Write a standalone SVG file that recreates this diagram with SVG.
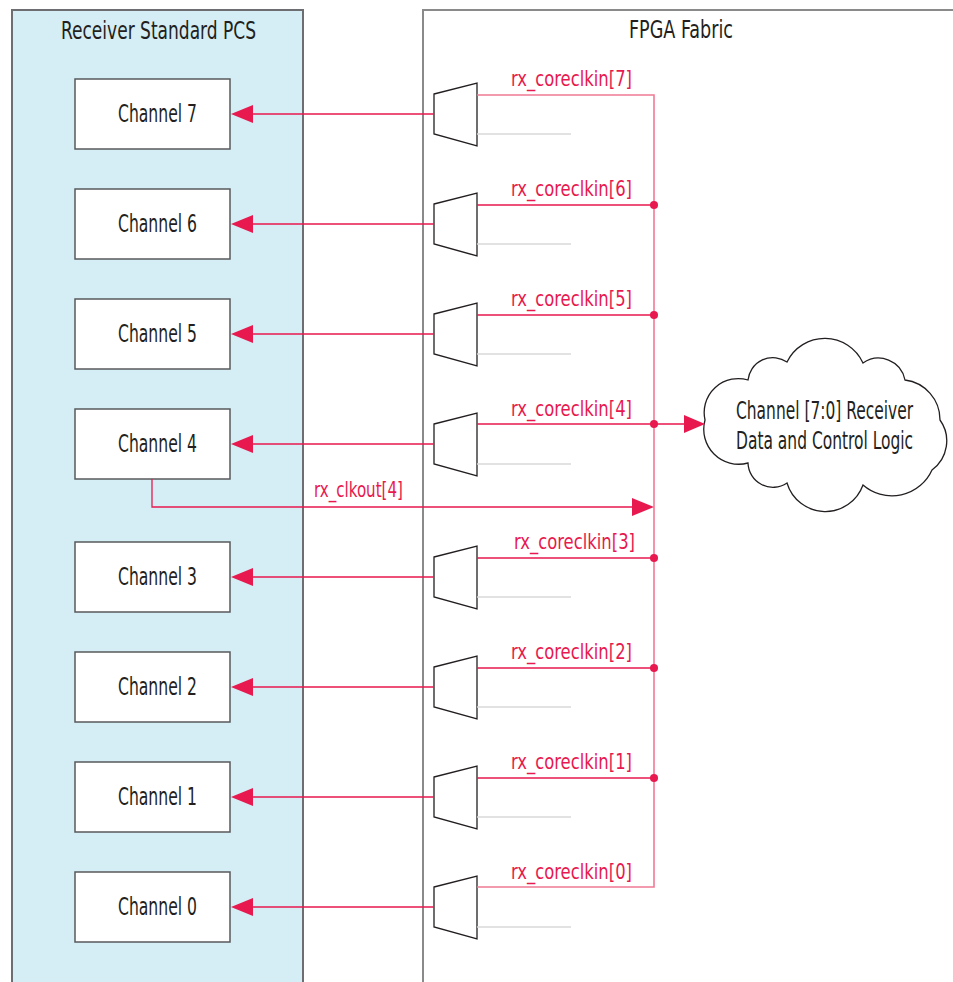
<svg xmlns="http://www.w3.org/2000/svg" width="953" height="982" viewBox="0 0 953 982">
<defs>
<style>
.panel{fill:#d5edf4;stroke:#6d6e71;stroke-width:2}
.fpga{fill:none;stroke:#8a8a8a;stroke-width:2}
.box{fill:#fff;stroke:#58595b;stroke-width:1.5}
.mux{fill:#fff;stroke:#231f20;stroke-width:1.3}
.t{font-family:"Liberation Sans Narrow","DejaVu Sans Condensed","Liberation Sans",sans-serif;fill:#231f20;font-size:25px}
.title{font-size:25px}
.lbl{font-family:"Liberation Sans Narrow","DejaVu Sans Condensed","Liberation Sans",sans-serif;fill:#e8194f;font-size:22px}
.w{fill:none;stroke:#e8194f;stroke-width:1.3}
.bus{fill:none;stroke:#f07a95;stroke-width:1.6}
.g{fill:none;stroke:#d9d9d9;stroke-width:1.3}
.ah{fill:#e8194f}
.cloud{fill:#fff;stroke:#231f20;stroke-width:1.3}
</style>
</defs>
<g id="receiver-pcs">
<path class="panel" d="M12 982 V10 H303 V982"/>
<text class="t title" x="61" y="39" textLength="195" lengthAdjust="spacingAndGlyphs">Receiver Standard PCS</text>
</g>
<g id="fpga-fabric">
<path class="fpga" d="M953 10 H423 V982"/>
<text class="t title" x="629" y="38" textLength="104" lengthAdjust="spacingAndGlyphs">FPGA Fabric</text>
</g>
<g id="ch7"><rect class="box" x="75" y="79" width="155" height="70"/><text class="t" x="118" y="122" textLength="79" lengthAdjust="spacingAndGlyphs">Channel 7</text></g>
<g id="ch6"><rect class="box" x="75" y="189" width="155" height="70"/><text class="t" x="118" y="232" textLength="79" lengthAdjust="spacingAndGlyphs">Channel 6</text></g>
<g id="ch5"><rect class="box" x="75" y="299" width="155" height="70"/><text class="t" x="118" y="342" textLength="79" lengthAdjust="spacingAndGlyphs">Channel 5</text></g>
<g id="ch4"><rect class="box" x="75" y="409" width="155" height="70"/><text class="t" x="118" y="452" textLength="79" lengthAdjust="spacingAndGlyphs">Channel 4</text></g>
<g id="ch3"><rect class="box" x="75" y="542" width="155" height="70"/><text class="t" x="118" y="585" textLength="79" lengthAdjust="spacingAndGlyphs">Channel 3</text></g>
<g id="ch2"><rect class="box" x="75" y="652" width="155" height="70"/><text class="t" x="118" y="695" textLength="79" lengthAdjust="spacingAndGlyphs">Channel 2</text></g>
<g id="ch1"><rect class="box" x="75" y="762" width="155" height="70"/><text class="t" x="118" y="805" textLength="79" lengthAdjust="spacingAndGlyphs">Channel 1</text></g>
<g id="ch0"><rect class="box" x="75" y="872" width="155" height="70"/><text class="t" x="118" y="915" textLength="79" lengthAdjust="spacingAndGlyphs">Channel 0</text></g>
<g id="mux7"><path class="mux" d="M434 94 L477 83 L477 146 L434 134 Z"/></g>
<g id="mux6"><path class="mux" d="M434 204 L477 193 L477 256 L434 244 Z"/></g>
<g id="mux5"><path class="mux" d="M434 314 L477 303 L477 366 L434 354 Z"/></g>
<g id="mux4"><path class="mux" d="M434 424 L477 413 L477 476 L434 464 Z"/></g>
<g id="mux3"><path class="mux" d="M434 557 L477 546 L477 609 L434 597 Z"/></g>
<g id="mux2"><path class="mux" d="M434 667 L477 656 L477 719 L434 707 Z"/></g>
<g id="mux1"><path class="mux" d="M434 777 L477 766 L477 829 L434 817 Z"/></g>
<g id="mux0"><path class="mux" d="M434 887 L477 876 L477 939 L434 927 Z"/></g>
<g id="logic-cloud">
<path class="cloud" d="M705 420 A34 34 0 0 1 748 380 A25 25 0 0 1 787 362 A42 42 0 0 1 863 363 A27 27 0 0 1 905 380 A40 40 0 0 1 940 420 A36 36 0 0 1 932 470 A44 44 0 0 1 863 485 A40 40 0 0 1 787 483 A25 25 0 0 1 748 463 A35 35 0 0 1 705 420 Z"/>
<text class="t" transform="translate(736 419) scale(0.7 1)" x="0" y="0" textLength="253" lengthAdjust="spacingAndGlyphs">Channel [7:0] Receiver</text>
<text class="t" transform="translate(736 449) scale(0.7 1)" x="0" y="0" textLength="253" lengthAdjust="spacingAndGlyphs">Data and Control Logic</text>
</g>
<g id="connectors">
<path class="bus" d="M477 95 L654 95 L654 887 L477 887"/>
<path class="w" d="M477 205 H654 M477 315 H654 M477 424 H684 M477 558 H654 M477 668 H654 M477 778 H654"/>
<path class="g" d="M477 134 H571 M477 244 H571 M477 354 H571 M477 464 H571 M477 597 H571 M477 707 H571 M477 817 H571 M477 927 H571"/>
<path class="w" d="M434 114 H252 M434 224 H252 M434 334 H252 M434 444 H252 M434 577 H252 M434 687 H252 M434 797 H252 M434 907 H252"/>
<path class="ah" d="M231 114 L253 105 L253 123 Z M231 224 L253 215 L253 233 Z M231 334 L253 325 L253 343 Z M231 444 L253 435 L253 453 Z M231 577 L253 568 L253 586 Z M231 687 L253 678 L253 696 Z M231 797 L253 788 L253 806 Z M231 907 L253 898 L253 916 Z"/>
<path class="w" d="M152 479 V507 H633"/>
<path class="ah" d="M654 507 L632 498 L632 516 Z M705 424 L684 415 L684 433 Z"/>
<g class="ah"><circle cx="654" cy="205" r="4"/><circle cx="654" cy="315" r="4"/><circle cx="654" cy="424" r="4"/><circle cx="654" cy="558" r="4"/><circle cx="654" cy="668" r="4"/><circle cx="654" cy="778" r="4"/></g>
<text class="lbl" x="511" y="86" textLength="121" lengthAdjust="spacingAndGlyphs">rx_coreclkin[7]</text>
<text class="lbl" x="511" y="196" textLength="121" lengthAdjust="spacingAndGlyphs">rx_coreclkin[6]</text>
<text class="lbl" x="511" y="306" textLength="121" lengthAdjust="spacingAndGlyphs">rx_coreclkin[5]</text>
<text class="lbl" x="511" y="416" textLength="121" lengthAdjust="spacingAndGlyphs">rx_coreclkin[4]</text>
<text class="lbl" x="314" y="497" textLength="89" lengthAdjust="spacingAndGlyphs">rx_clkout[4]</text>
<text class="lbl" x="514" y="549" textLength="121" lengthAdjust="spacingAndGlyphs">rx_coreclkin[3]</text>
<text class="lbl" x="511" y="659" textLength="121" lengthAdjust="spacingAndGlyphs">rx_coreclkin[2]</text>
<text class="lbl" x="511" y="769" textLength="121" lengthAdjust="spacingAndGlyphs">rx_coreclkin[1]</text>
<text class="lbl" x="511" y="879" textLength="121" lengthAdjust="spacingAndGlyphs">rx_coreclkin[0]</text>
</g>
</svg>
